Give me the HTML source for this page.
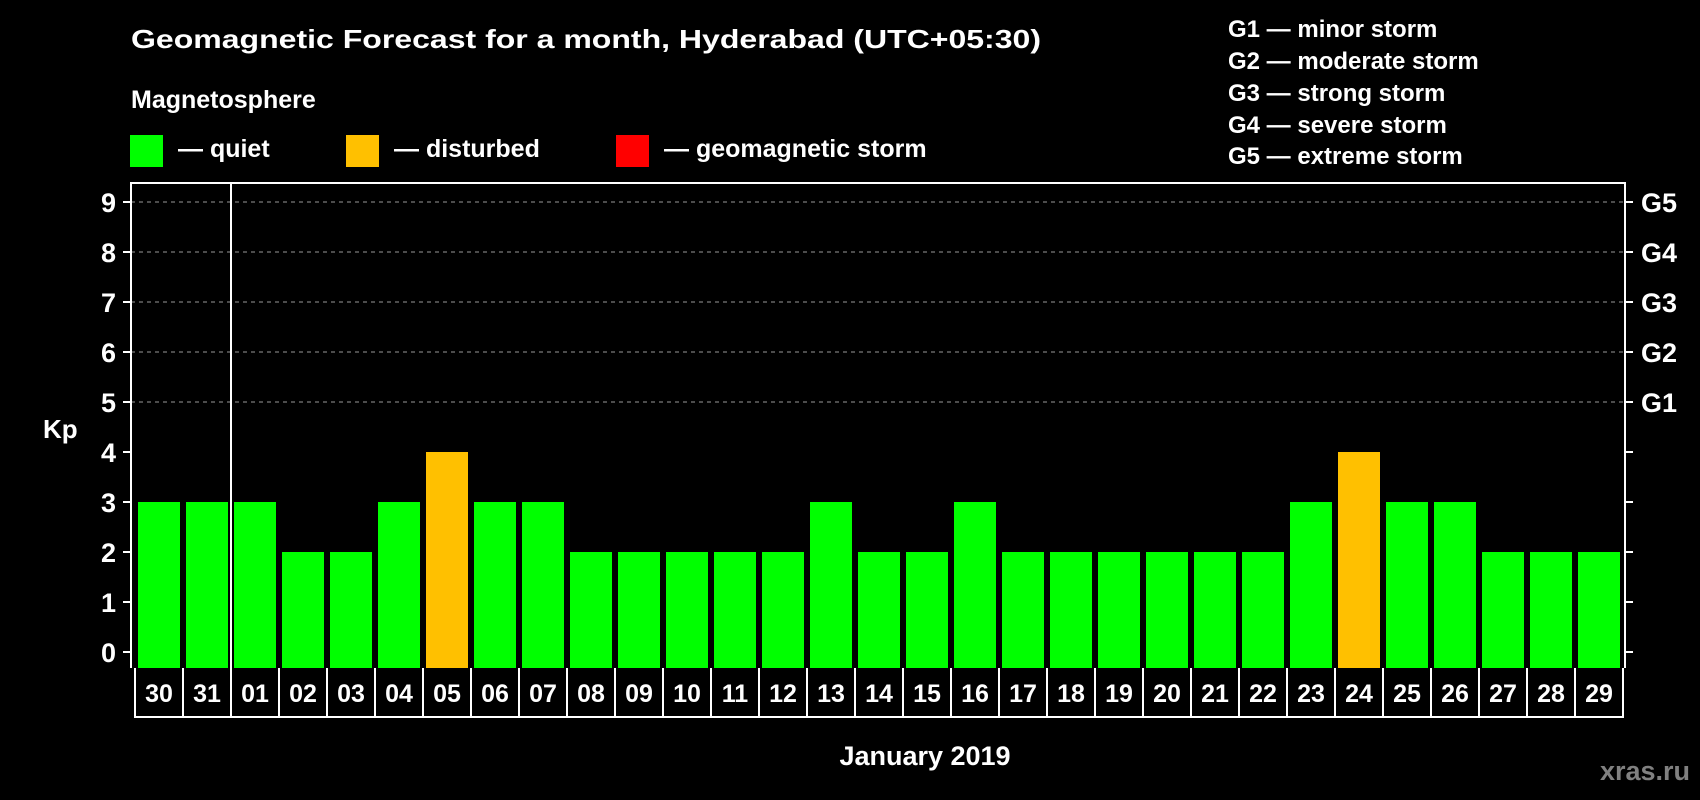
<!DOCTYPE html>
<html><head><meta charset="utf-8"><style>
html,body{margin:0;padding:0;background:#000;width:1700px;height:800px;overflow:hidden}
svg{display:block;font-family:"Liberation Sans",Arial,sans-serif;font-weight:bold}
</style></head><body>
<svg id="chart" width="1700" height="800" viewBox="0 0 1700 800">
<rect width="1700" height="800" fill="#000"/>
<text x="131" y="48" font-size="26" fill="#fff" textLength="910" lengthAdjust="spacingAndGlyphs">Geomagnetic Forecast for a month, Hyderabad (UTC+05:30)</text>
<text x="131" y="108" font-size="25" fill="#fff">Magnetosphere</text>
<g><rect x="130" y="135" width="33" height="32" fill="#00ff00"/><text x="178" y="157" font-size="25" fill="#fff">— quiet</text></g>
<g><rect x="346" y="135" width="33" height="32" fill="#ffc000"/><text x="394" y="157" font-size="25" fill="#fff">— disturbed</text></g>
<g><rect x="616" y="135" width="33" height="32" fill="#ff0000"/><text x="664" y="157" font-size="25" fill="#fff">— geomagnetic storm</text></g>
<g font-size="24" fill="#fff">
<text x="1228" y="37">G1 — minor storm</text>
<text x="1228" y="69">G2 — moderate storm</text>
<text x="1228" y="101">G3 — strong storm</text>
<text x="1228" y="133">G4 — severe storm</text>
<text x="1228" y="164">G5 — extreme storm</text>
</g>
<text x="43" y="438" font-size="26" fill="#fff">Kp</text>
<text x="925" y="765" font-size="27" fill="#fff" text-anchor="middle">January 2019</text>
<text x="1690" y="780" font-size="27" fill="#808080" text-anchor="end">xras.ru</text>
<g id="plot"></g>
</svg>
<script>
const days = ["30","31","01","02","03","04","05","06","07","08","09","10","11","12","13","14","15","16","17","18","19","20","21","22","23","24","25","26","27","28","29"];
const kp = [3,3,3,2,2,3,4,3,3,2,2,2,2,2,3,2,2,3,2,2,2,2,2,2,3,4,3,3,2,2,2];
const yTicks = ["0","1","2","3","4","5","6","7","8","9"];
const gLabels = ["G1","G2","G3","G4","G5"];
const NS = "http://www.w3.org/2000/svg";
const plot = document.getElementById("plot");
const L = 131, R = 1625, T = 183, B = 668, step = 48, x0 = 138, bw = 42;
const y = v => 652 - v * 50;
const x = i => x0 + i * step;
function mk(tag, attrs){const e=document.createElementNS(NS,tag);for(const k in attrs)e.setAttribute(k,attrs[k]);plot.appendChild(e);return e;}
// grid
for (let v = 5; v <= 9; v++) {
  const g = mk("line",{x1:L,x2:R,y1:y(v),y2:y(v),stroke:"#999","stroke-width":1,"stroke-dasharray":"4,4"});
  
  
}
// bars
kp.forEach((v,i)=>{
  const col = v >= 5 ? "#ff0000" : (v >= 4 ? "#ffc000" : "#00ff00");
  const b = mk("rect",{x:x(i),y:y(v),width:bw,height:B - y(v),fill:col});
  
  
});
// frame
const fr = mk("path",{d:`M${L},${B} L${L},${T} L${R},${T} L${R},${B}`,fill:"none",stroke:"#fff","stroke-width":2});


const sep = mk("line",{x1:231,x2:231,y1:T,y2:B,stroke:"#fff","stroke-width":2});


// y ticks
yTicks.forEach((t,v)=>{
  const tk = mk("line",{x1:123,x2:L,y1:y(v),y2:y(v),stroke:"#fff","stroke-width":2});
  
  
  const rk = mk("line",{x1:R,x2:1633,y1:y(v),y2:y(v),stroke:"#fff","stroke-width":2});
  
  
  const tx = mk("text",{x:116,y:y(v)+10,"font-size":27,fill:"#fff","text-anchor":"end"});
  tx.textContent = t;
  
  
});
gLabels.forEach((g,i)=>{
  const tx = mk("text",{x:1641,y:y(5+i)+10,"font-size":27,fill:"#fff"});
  tx.textContent = g;
  
  
});
// day boxes
const box = mk("path",{d:`M135,${B} L135,717 L1623,717 L1623,${B}`,fill:"none",stroke:"#fff","stroke-width":2});


days.forEach((d,i)=>{
  if (i > 0) {
    const ln = mk("line",{x1:x(i)-3,x2:x(i)-3,y1:B,y2:717,stroke:"#fff","stroke-width":2});
    
    
  }
  const tx = mk("text",{x:x(i)+bw/2,y:702,"font-size":25,fill:"#fff","text-anchor":"middle"});
  tx.textContent = d;
  
  
});
</script>
</body></html>
